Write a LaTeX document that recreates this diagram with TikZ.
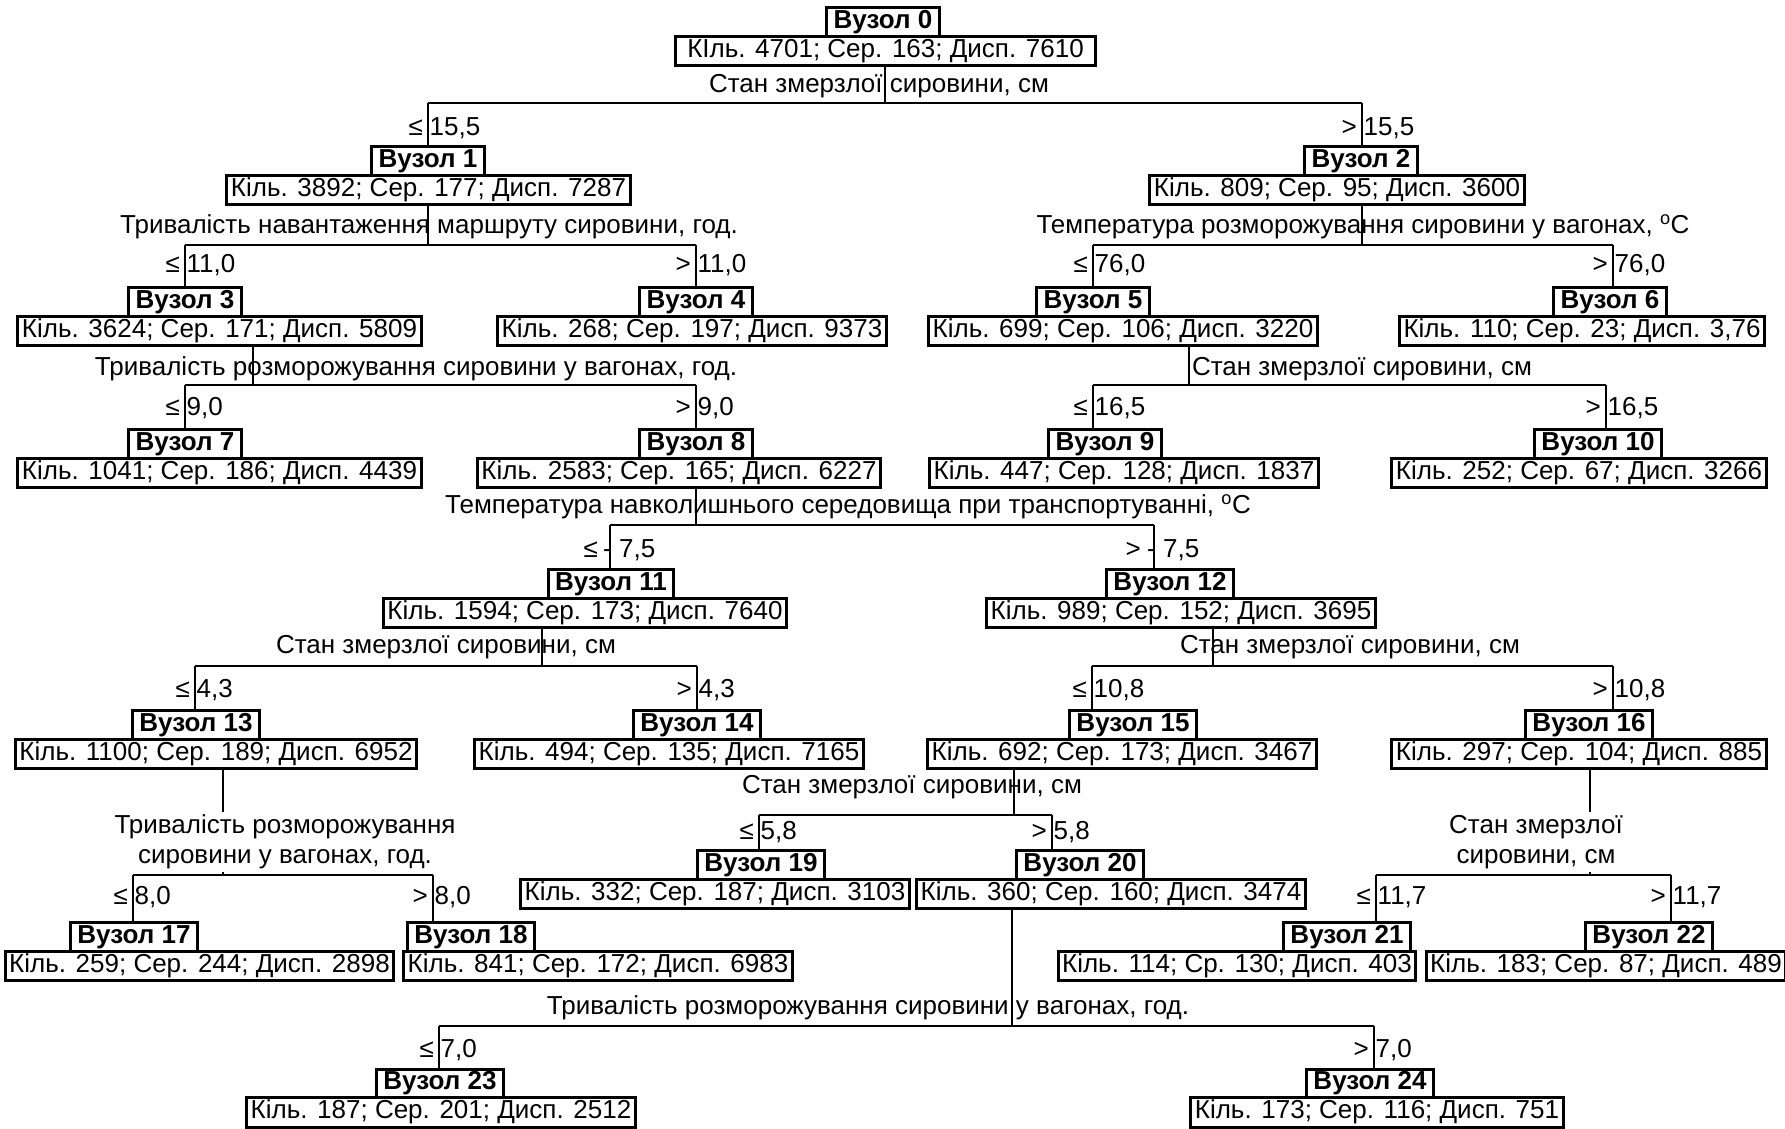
\documentclass[tikz,border=0pt]{standalone}
\usepackage{fontspec}
\setmainfont{Liberation Sans}
\usetikzlibrary{backgrounds}
\newcommand\dfsz{\fontsize{26}{30}\selectfont}
\tikzset{
 titlebox/.style={draw, line width=3pt, fill=white, font=\dfsz\bfseries, inner xsep=7pt, inner ysep=0pt, minimum height=28.5pt, anchor=north},
 statbox/.style={draw, line width=3pt, fill=white, font=\dfsz, inner xsep=4pt, inner ysep=0pt, minimum height=29.5pt, anchor=north},
 conn/.style={line width=2.8pt},
 lbl/.style={font=\dfsz, inner sep=0pt},
 cnd/.style={font=\dfsz, inner sep=0pt},
}
\newcommand\tn[6][]{%
 \node[statbox,#1] (s#2) at (#4,#5+28.5) {#6};
 \node[titlebox] (t#2) at (#3,#5) {Вузол #2};
}
\newcommand\cnd[5]{%
 \node[cnd,anchor=east] (c#1a) at (#2-5,#3) {#4};
 \node[cnd,anchor=west] (c#1b) at (#2+1.5,#3) {#5};
}
\begin{document}
\begin{tikzpicture}[x=1pt,y=-1pt]
\useasboundingbox (0,0) rectangle (1785,1128);

% tree nodes
\tn[inner xsep=12pt]{0}{883}{885.5}{6}{КІль. 4701; Сер. 163; Дисп. 7610}
\tn{1}{428}{428.5}{145}{Кіль. 3892; Сер. 177; Дисп. 7287}
\tn{2}{1361}{1337}{145}{Кіль. 809; Сер. 95; Дисп. 3600}
\tn{3}{185}{219.5}{286}{Кіль. 3624; Сер. 171; Дисп. 5809}
\tn{4}{696}{692}{286}{Кіль. 268; Сер. 197; Дисп. 9373}
\tn{5}{1093}{1123}{286}{Кіль. 699; Сер. 106; Дисп. 3220}
\tn{6}{1610}{1582}{286}{Кіль. 110; Сер. 23; Дисп. 3,76}
\tn{7}{185}{219.5}{428}{Кіль. 1041; Сер. 186; Дисп. 4439}
\tn{8}{696}{679}{428}{Кіль. 2583; Сер. 165; Дисп. 6227}
\tn{9}{1105}{1124}{428}{Кіль. 447; Сер. 128; Дисп. 1837}
\tn{10}{1598}{1579}{428}{Кіль. 252; Сер. 67; Дисп. 3266}
\tn{11}{611}{585}{568}{Кіль. 1594; Сер. 173; Дисп. 7640}
\tn{12}{1170}{1181}{568}{Кіль. 989; Сер. 152; Дисп. 3695}
\tn{13}{196}{216}{709}{Кіль. 1100; Сер. 189; Дисп. 6952}
\tn{14}{697}{669}{709}{Кіль. 494; Сер. 135; Дисп. 7165}
\tn{15}{1133}{1122}{709}{Кіль. 692; Сер. 173; Дисп. 3467}
\tn{16}{1589}{1579}{709}{Кіль. 297; Сер. 104; Дисп. 885}
\tn{17}{134}{199.5}{921}{Кіль. 259; Сер. 244; Дисп. 2898}
\tn{18}{471}{598}{921}{Кіль. 841; Сер. 172; Дисп. 6983}
\tn{19}{761}{715}{849}{Кіль. 332; Сер. 187; Дисп. 3103}
\tn{20}{1080}{1111}{849}{Кіль. 360; Сер. 160; Дисп. 3474}
\tn{21}{1347}{1237}{921}{Кіль. 114; Ср. 130; Дисп. 403}
\tn{22}{1649}{1606}{921}{Кіль. 183; Сер. 87; Дисп. 489}
\tn{23}{440}{441}{1067.5}{Кіль. 187; Сер. 201; Дисп. 2512}
\tn{24}{1370}{1377}{1067.5}{Кіль. 173; Сер. 116; Дисп. 751}

% split labels
\node[lbl] (q0) at (879,86) {Стан змерзлої сировини, см};
\node[lbl] (q1) at (429,227) {Тривалість навантаження маршруту сировини, год.};
\node[lbl] (q2) at (1363,227) {Температура розморожування сировини у вагонах, \textsuperscript{o}C};
\node[lbl] (q3) at (416,369) {Тривалість розморожування сировини у вагонах, год.};
\node[lbl] (q5) at (1362,369) {Стан змерзлої сировини, см};
\node[lbl] (q8) at (848,507) {Температура навколишнього середовища при транспортуванні, \textsuperscript{o}C};
\node[lbl] (q11) at (446,647) {Стан змерзлої сировини, см};
\node[lbl] (q12) at (1350,647) {Стан змерзлої сировини, см};
\node[lbl, align=center, inner ysep=3pt] (q13) at (285,842) {Тривалість розморожування\\сировини у вагонах, год.};
\node[lbl] (q15) at (912,787) {Стан змерзлої сировини, см};
\node[lbl, align=center, inner ysep=3pt] (q16) at (1536,842) {Стан змерзлої\\сировини, см};
\node[lbl] (q20) at (868,1008) {Тривалість розморожування сировини у вагонах, год.};

% condition labels
\cnd{1}{428}{128}{≤}{15,5}
\cnd{2}{1362}{128}{>}{15,5}
\cnd{3}{185}{265}{≤}{11,0}
\cnd{4}{696}{265}{>}{11,0}
\cnd{5}{1093}{265}{≤}{76,0}
\cnd{6}{1613}{265}{>}{76,0}
\cnd{7}{185}{408}{≤}{9,0}
\cnd{8}{696}{408}{>}{9,0}
\cnd{9}{1093}{408}{≤}{16,5}
\cnd{10}{1606}{408}{>}{16,5}
\node[cnd,anchor=east] (c11a) at (598,550) {≤};
\node[cnd,anchor=west] (c11b) at (603,550) {- 7,5};
\node[cnd,anchor=east] (c12a) at (1141,550) {>};
\node[cnd,anchor=west] (c12b) at (1147,550) {- 7,5};
\cnd{13}{195}{690}{≤}{4,3}
\cnd{14}{697}{690}{>}{4,3}
\cnd{15}{1092}{690}{≤}{10,8}
\cnd{16}{1613}{690}{>}{10,8}
\cnd{17}{133}{897}{≤}{8,0}
\cnd{18}{433}{897}{>}{8,0}
\cnd{19}{759}{832}{≤}{5,8}
\cnd{20}{1052}{832}{>}{5,8}
\cnd{21}{1376}{897}{≤}{11,7}
\cnd{22}{1671}{897}{>}{11,7}
\cnd{23}{439}{1050}{≤}{7,0}
\cnd{24}{1374}{1050}{>}{7,0}

% connectors
\begin{scope}[on background layer]
\fill[white] (0,0) rectangle (1785,1128);
\foreach \p/\jx/\lx/\rx/\yy/\a/\b in {0/885/428/1362/103/1/2, 1/428/185/696/245/3/4, 2/1362/1093/1613/245/5/6, 3/253/185/696/385/7/8, 5/1189/1093/1606/385/9/10, 8/696/610/1154/525/11/12, 11/542/195/697/666/13/14, 12/1213/1092/1613/666/15/16, 13/223/133/433/875/17/18, 15/1014/759/1052/815/19/20, 16/1590/1376/1671/875/21/22, 20/1012/439/1374/1026/23/24}{
 \coordinate (j\p) at (\jx,\yy);
 \coordinate (l\p) at (\lx,\yy);
 \coordinate (r\p) at (\rx,\yy);
 \draw[conn] (l\p) -- (r\p);
 \draw[conn] (l\p) -- (l\p |- t\a.north);
 \draw[conn] (r\p) -- (r\p |- t\b.north);
}
\foreach \p in {0,1,2,3,5,8,11,12,15,20}{
 \draw[conn] (s\p.south -| j\p) -- (j\p);
}
\foreach \p in {13,16}{
 \draw[conn] (s\p.south -| j\p) -- (j\p |- q\p.north);
 \draw[conn] (j\p |- q\p.south) -- (j\p);
}
\end{scope}
\end{tikzpicture}
\end{document}
